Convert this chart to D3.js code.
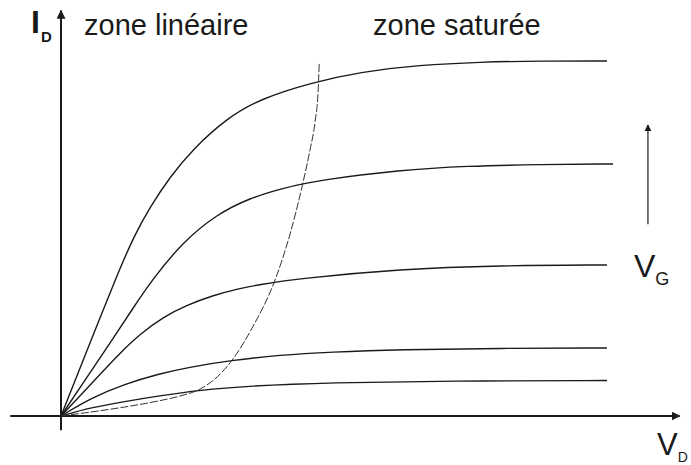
<!DOCTYPE html>
<html>
<head>
<meta charset="utf-8">
<script src="https://cdn.jsdelivr.net/npm/d3@7"></script>
<style>
  html, body { margin: 0; padding: 0; background: #fff; }
  svg { display: block; }
  text { font-family: "Liberation Sans", Arial, Helvetica, sans-serif; fill: #1a1a1a; }
</style>
</head>
<body>
<svg id="chart" width="691" height="465"></svg>
<script>
// Output characteristics I_D(V_D), one curve per gate voltage (arbitrary units)
const curveVg5 = [[0,0],[0.348,1.352],[0.714,2.761],[1.044,4.028],[1.337,5.070],[1.630,5.887],[1.996,6.732],[2.399,7.493],[3.040,8.394],[3.645,8.930],[4.560,9.380],[5.476,9.690],[6.575,9.887],[7.674,9.972],[8.773,10],[10,10]];
const curveVg4 = [[0,0],[0.44,1.014],[0.90,2.056],[1.32,3.042],[1.68,3.859],[2.23,4.901],[2.86,5.690],[3.46,6.141],[4.07,6.423],[4.74,6.648],[6.21,6.930],[7.44,7.042],[8.77,7.085],[10.11,7.099]];
const curveVg3 = [[0,0],[0.55,0.901],[1.08,1.775],[1.45,2.310],[1.87,2.789],[2.31,3.127],[2.78,3.394],[3.22,3.577],[3.64,3.704],[4.38,3.873],[6.21,4.141],[8.04,4.239],[10,4.254]];
const curveVg2 = [[0,0],[0.55,0.507],[1.17,0.901],[1.78,1.183],[2.36,1.380],[3.10,1.563],[4.01,1.718],[4.93,1.803],[6.21,1.873],[8.04,1.907],[10,1.915]];
const curveVg1 = [[0,0],[0.55,0.239],[1.17,0.408],[1.78,0.563],[2.55,0.732],[3.41,0.845],[4.93,0.944],[7.12,0.986],[10,1.0]];
// Boundary between the linear and saturated regions (V_D = V_GS - V_T)
const saturationLimit = [[0,0],[0.55,0.113],[1.17,0.254],[1.78,0.423],[2.18,0.563],[2.55,0.761],[2.86,1.099],[3.15,1.606],[3.50,2.479],[3.92,3.831],[4.19,5.099],[4.43,6.563],[4.56,7.493],[4.65,8.254],[4.71,9.183],[4.73,9.972]];

const characteristics = [curveVg5, curveVg4, curveVg3, curveVg2, curveVg1];

const zoneLabels = ["zone linéaire", "zone saturée"];
const axisLabelY = ["I", "D"];
const axisLabelX = ["V", "D"];
const gateLabel = ["V", "G"];

const svg = d3.select("#chart");

const x = d3.scaleLinear().domain([0, 10]).range([61, 607]);
const y = d3.scaleLinear().domain([0, 10]).range([416, 61]);

// smooth B-spline through the sampled characteristic points
const smoothLine = d3.line()
  .x(d => x(d[0]))
  .y(d => y(d[1]))
  .curve(d3.curveBasis);

const boundaryLine = d3.line()
  .x(d => x(d[0]))
  .y(d => y(d[1]))
  .curve(d3.curveMonotoneX);

// arrowheads
const defs = svg.append("defs");
defs.append("marker")
  .attr("id", "arrowAxis")
  .attr("viewBox", "0 0 10 10")
  .attr("refX", 9).attr("refY", 5)
  .attr("markerWidth", 4.5).attr("markerHeight", 4.5)
  .attr("markerUnits", "strokeWidth")
  .attr("orient", "auto")
  .append("path").attr("d", "M0,0 L10,5 L0,10 Z").attr("fill", "#1a1a1a");
defs.append("marker")
  .attr("id", "arrowThin")
  .attr("viewBox", "0 0 10 10")
  .attr("refX", 9).attr("refY", 5)
  .attr("markerWidth", 6).attr("markerHeight", 7)
  .attr("markerUnits", "strokeWidth")
  .attr("orient", "auto")
  .append("path").attr("d", "M0,0 L10,5 L0,10 Z").attr("fill", "#1a1a1a");

// axes
svg.append("line")
  .attr("x1", x(0)).attr("y1", y(-0.4))
  .attr("x2", x(0)).attr("y2", y(11.42))
  .attr("stroke", "#1a1a1a").attr("stroke-width", 2)
  .attr("marker-end", "url(#arrowAxis)");
svg.append("line")
  .attr("x1", x(-0.93)).attr("y1", y(0))
  .attr("x2", x(11.33)).attr("y2", y(0))
  .attr("stroke", "#1a1a1a").attr("stroke-width", 2)
  .attr("marker-end", "url(#arrowAxis)");

// characteristic curves
svg.append("g")
  .selectAll("path")
  .data(characteristics)
  .join("path")
  .attr("d", smoothLine)
  .attr("fill", "none")
  .attr("stroke", "#1a1a1a")
  .attr("stroke-width", 1.4);

// saturation boundary
svg.append("path")
  .datum(saturationLimit)
  .attr("d", boundaryLine)
  .attr("fill", "none")
  .attr("stroke", "#333")
  .attr("stroke-width", 1)
  .attr("stroke-dasharray", "8,2");

// gate voltage arrow
svg.append("line")
  .attr("x1", x(10.75)).attr("y1", y(5.4))
  .attr("x2", x(10.75)).attr("y2", y(8.2))
  .attr("stroke", "#1a1a1a").attr("stroke-width", 1.2)
  .attr("marker-end", "url(#arrowThin)");

// zone labels
svg.append("text").attr("x", 84).attr("y", 35)
  .attr("font-size", 29).text(zoneLabels[0]);
svg.append("text").attr("x", 373).attr("y", 35)
  .attr("font-size", 29).text(zoneLabels[1]);

// axis labels
const iLab = svg.append("text").attr("x", 31).attr("y", 33).attr("font-weight", "bold");
iLab.append("tspan").attr("font-size", 32).text(axisLabelY[0]);
iLab.append("tspan").attr("font-size", 15).attr("dx", 1).attr("dy", 9).text(axisLabelY[1]);

const vLab = svg.append("text").attr("x", 657).attr("y", 455);
vLab.append("tspan").attr("font-size", 31).text(axisLabelX[0]);
vLab.append("tspan").attr("font-size", 14).attr("dx", 0).attr("dy", 7).text(axisLabelX[1]);

const gLab = svg.append("text").attr("x", 634).attr("y", 277);
gLab.append("tspan").attr("font-size", 32).text(gateLabel[0]);
gLab.append("tspan").attr("font-size", 18).attr("dx", 0).attr("dy", 8).text(gateLabel[1]);
</script>
</body>
</html>
